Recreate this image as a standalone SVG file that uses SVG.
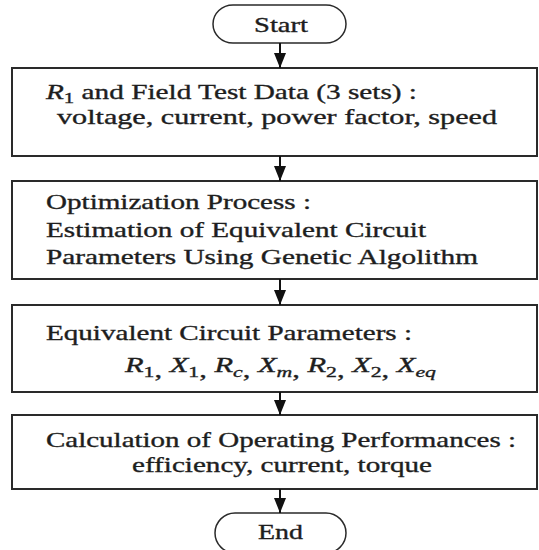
<svg xmlns="http://www.w3.org/2000/svg" width="539" height="550" viewBox="0 0 539 550">
<style>
.box{fill:#fff;stroke:#2a2a2a;stroke-width:2}
.term{fill:#fff;stroke:#2a2a2a;stroke-width:1.5}
text{font-family:"Liberation Serif","Times New Roman",serif;font-size:21px;fill:#1e1e1e;stroke:#1e1e1e;stroke-width:0.35}
.it{font-style:italic}
.conn line{stroke:#111;stroke-width:2}
</style>
<defs>
<marker id="ah" markerWidth="15" markerHeight="12" refX="15" refY="6" orient="auto" markerUnits="userSpaceOnUse" viewBox="0 0 15 12">
<path d="M0,0 L15,6 L0,12 Z" fill="#111"/>
</marker>
</defs>
<rect width="539" height="550" fill="#fff"/>
<g id="start">
<rect class="term" x="213" y="5" width="133" height="38" rx="20" ry="19"/>
<text x="254" y="32" textLength="54" lengthAdjust="spacingAndGlyphs">Start</text>
</g>
<g id="input">
<rect class="box" x="12" y="68" width="525" height="88"/>
<text x="46" y="99" textLength="371" lengthAdjust="spacingAndGlyphs"><tspan class="it">R</tspan><tspan font-size="15" dy="4">1</tspan><tspan dy="-4"> and Field Test Data (3 sets) :</tspan></text>
<text x="57" y="124" textLength="440" lengthAdjust="spacingAndGlyphs">voltage, current, power factor, speed</text>
</g>
<g id="optimization">
<rect class="box" x="12" y="181" width="525" height="98"/>
<text x="46" y="209" textLength="265" lengthAdjust="spacingAndGlyphs">Optimization Process :</text>
<text x="46" y="237" textLength="380" lengthAdjust="spacingAndGlyphs">Estimation of Equivalent Circuit</text>
<text x="46" y="264" textLength="432" lengthAdjust="spacingAndGlyphs">Parameters Using Genetic Algolithm</text>
</g>
<g id="parameters">
<rect class="box" x="12" y="305" width="525" height="87"/>
<text x="46" y="340" textLength="366" lengthAdjust="spacingAndGlyphs">Equivalent Circuit Parameters :</text>
<text x="125" y="372" textLength="311" lengthAdjust="spacingAndGlyphs"><tspan class="it">R</tspan><tspan font-size="15" dy="5">1</tspan>, <tspan class="it" dy="-5">X</tspan><tspan font-size="15" dy="5">1</tspan>, <tspan class="it" dy="-5">R</tspan><tspan class="it" font-size="15" dy="5">c</tspan>, <tspan class="it" dy="-5">X</tspan><tspan class="it" font-size="15" dy="5">m</tspan>, <tspan class="it" dy="-5">R</tspan><tspan font-size="15" dy="5">2</tspan>, <tspan class="it" dy="-5">X</tspan><tspan font-size="15" dy="5">2</tspan>, <tspan class="it" dy="-5">X</tspan><tspan class="it" font-size="15" dy="5">eq</tspan></text>
</g>
<g id="performance">
<rect class="box" x="12" y="415" width="525" height="74"/>
<text x="46" y="447" textLength="470" lengthAdjust="spacingAndGlyphs">Calculation of Operating Performances :</text>
<text x="132" y="472" textLength="300" lengthAdjust="spacingAndGlyphs">efficiency, current, torque</text>
</g>
<g id="end">
<rect class="term" x="215" y="513" width="131" height="40" rx="20" ry="20"/>
<text x="258" y="539" textLength="45" lengthAdjust="spacingAndGlyphs">End</text>
</g>
<g id="connectors" class="conn">
<line x1="280" y1="43" x2="280" y2="67"/>
<line x1="280" y1="156" x2="280" y2="180"/>
<line x1="280" y1="279" x2="280" y2="304"/>
<line x1="280" y1="392" x2="280" y2="414"/>
<line x1="280" y1="489" x2="280" y2="512"/>
<line x1="280" y1="43" x2="280" y2="68" marker-end="url(#ah)"/>
<line x1="280" y1="156" x2="280" y2="181" marker-end="url(#ah)"/>
<line x1="280" y1="279" x2="280" y2="305" marker-end="url(#ah)"/>
<line x1="280" y1="392" x2="280" y2="415" marker-end="url(#ah)"/>
<line x1="280" y1="489" x2="280" y2="513" marker-end="url(#ah)"/>
</g>
</svg>
